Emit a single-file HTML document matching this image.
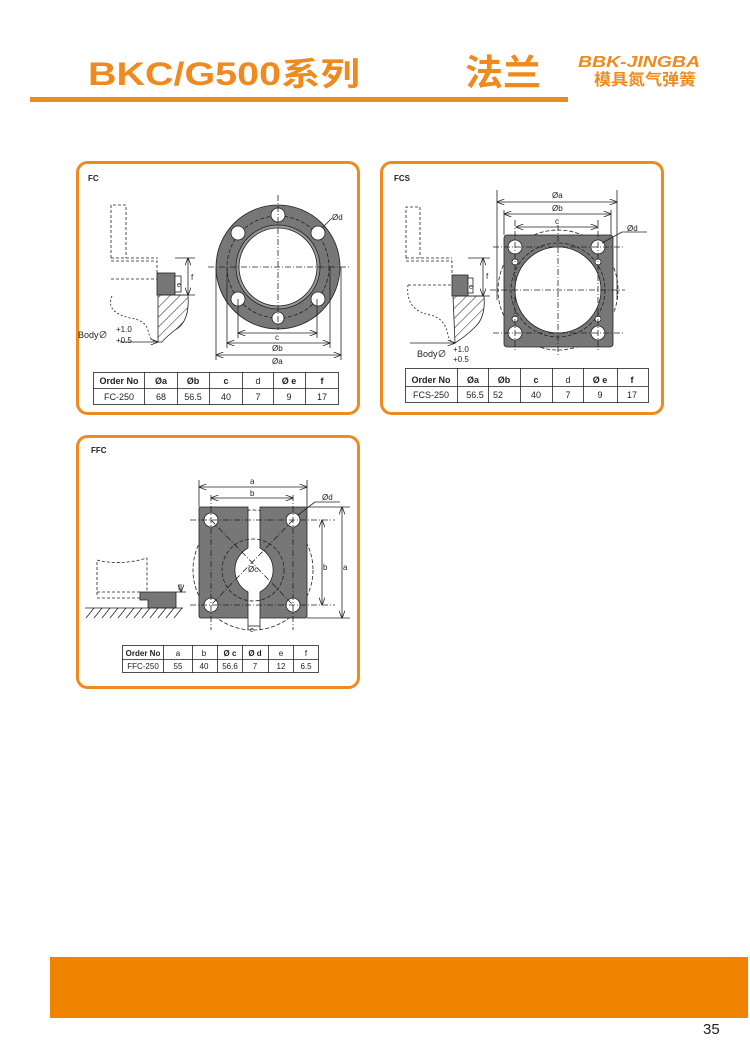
<!DOCTYPE html>
<html><head><meta charset="utf-8"><style>
html,body{margin:0;padding:0;background:#fff;}
svg{display:block;font-family:"Liberation Sans","Noto Sans CJK SC",sans-serif;}
</style></head><body>
<svg width="750" height="1061" viewBox="0 0 750 1061" xmlns="http://www.w3.org/2000/svg">
<defs>
<pattern id="hatch" width="7" height="7" patternUnits="userSpaceOnUse" patternTransform="rotate(45)">
<line x1="0" y1="0" x2="0" y2="7" stroke="#222" stroke-width="1"/></pattern>
<marker id="ar" markerWidth="8" markerHeight="6" refX="7.5" refY="3" orient="auto-start-reverse" markerUnits="userSpaceOnUse"><path d="M0,0 L8,3 L0,6" fill="none" stroke="#222" stroke-width="0.8"/></marker>
</defs>
<!-- header -->
<text x="88" y="85" font-size="32" font-weight="bold" fill="#ef8a1e" textLength="272" lengthAdjust="spacingAndGlyphs">BKC/G500系列</text>
<text x="465" y="85" font-size="36" font-weight="bold" fill="#ef8a1e" textLength="76" lengthAdjust="spacingAndGlyphs">法兰</text>
<text x="578" y="67" font-size="16" font-weight="bold" font-style="italic" fill="#ef8a1e" textLength="122" lengthAdjust="spacingAndGlyphs">BBK-JINGBA</text>
<text x="594" y="85" font-size="16" font-weight="bold" fill="#ef8a1e" textLength="102" lengthAdjust="spacingAndGlyphs">模具氮气弹簧</text>
<rect x="30" y="97" width="538" height="5" fill="#ef8a1e"/>

<!-- panels -->
<g fill="#fff" stroke="#ef8a1e" stroke-width="3">
<rect x="77.5" y="162.5" width="281" height="251" rx="10"/>
<rect x="381.5" y="162.5" width="281" height="251" rx="10"/>
<rect x="77.5" y="436.5" width="281" height="251" rx="10"/>
</g>

<!-- FC -->
<g stroke="#222" stroke-width="0.8" fill="none">
<text x="88" y="181" font-size="8" font-weight="bold" fill="#222" stroke="none">FC</text>
<path d="M111,258 V205 H126 V258" stroke-dasharray="3,2"/>
<path d="M111,258 H158 M111,261 H157 V273 M111,279 H157" stroke-dasharray="3,2"/>
<rect x="157" y="273" width="18" height="22" fill="#777"/>
<rect x="175" y="276" width="6" height="16" fill="#fff"/>
<path d="M158,295 H188 Q190,322 175,330 Q165,338 162,342 H158 Z" fill="url(#hatch)"/>
<path d="M112,296 Q105,312 130,318 Q145,320 148,330 Q150,342 158,342" stroke-dasharray="2,2"/>
<line x1="175" y1="258" x2="195" y2="258"/><line x1="175" y1="295" x2="195" y2="295"/>
<line x1="188" y1="258" x2="188" y2="295" marker-start="url(#ar)" marker-end="url(#ar)"/>
<line x1="120" y1="342" x2="158" y2="342" marker-end="url(#ar)"/>
<text x="191" y="280" font-size="8" fill="#222" stroke="none">f</text>
<text x="177" y="287" font-size="7" fill="#222" stroke="none">e</text>
<text x="78" y="338" font-size="9" fill="#222" stroke="none">Body∅</text>
<text x="116" y="332" font-size="8" fill="#222" stroke="none">+1.0</text>
<text x="116" y="343" font-size="8" fill="#222" stroke="none">+0.5</text>
<circle cx="278" cy="267" r="62" fill="#777"/>
<circle cx="278" cy="267" r="42" fill="#999"/>
<circle cx="278" cy="267" r="39" fill="#fff"/>
<circle cx="278" cy="267" r="51" stroke-dasharray="4,2"/>
<g fill="#fff">
<circle cx="278" cy="215" r="7"/><circle cx="238" cy="233" r="7"/><circle cx="318" cy="233" r="7"/>
<circle cx="238" cy="299" r="7"/><circle cx="318" cy="299" r="7"/><circle cx="278" cy="318" r="6"/>
</g>
<line x1="208" y1="267" x2="350" y2="267" stroke-dasharray="6,2,1,2"/>
<line x1="278" y1="195" x2="278" y2="330" stroke-dasharray="6,2,1,2"/>
<line x1="216" y1="267" x2="216" y2="360"/><line x1="341" y1="267" x2="341" y2="360"/>
<line x1="227" y1="267" x2="227" y2="348"/><line x1="330" y1="267" x2="330" y2="348"/>
<line x1="238" y1="299" x2="238" y2="338"/><line x1="317" y1="299" x2="317" y2="338"/>
<line x1="238" y1="333" x2="317" y2="333" marker-start="url(#ar)" marker-end="url(#ar)"/>
<line x1="227" y1="343" x2="330" y2="343" marker-start="url(#ar)" marker-end="url(#ar)"/>
<line x1="216" y1="355" x2="341" y2="355" marker-start="url(#ar)" marker-end="url(#ar)"/>
<line x1="322" y1="228" x2="332" y2="218"/>
<text x="275" y="340" font-size="8" fill="#222" stroke="none">c</text>
<text x="272" y="351" font-size="8" fill="#222" stroke="none">Øb</text>
<text x="272" y="364" font-size="8" fill="#222" stroke="none">Øa</text>
<text x="332" y="220" font-size="8" fill="#222" stroke="none">Ød</text>
</g>
<g font-size="9" fill="#222" text-anchor="middle">
<rect x="93.5" y="372.5" width="245" height="32" fill="none" stroke="#222" stroke-width="0.8"/>
<path d="M93,388.5 H338 M144.5,372 V405 M177.5,372 V405 M209.5,372 V405 M242.5,372 V405 M273.5,372 V405 M305.5,372 V405" stroke="#222" stroke-width="0.8"/>
<g font-weight="bold"><text x="119" y="384">Order No</text><text x="161" y="384">Øa</text><text x="193" y="384">Øb</text><text x="226" y="384">c</text><text x="289" y="384">Ø e</text><text x="322" y="384">f</text></g>
<text x="258" y="384">d</text>
<text x="119" y="400">FC-250</text><text x="161" y="400">68</text><text x="193" y="400">56.5</text><text x="226" y="400">40</text><text x="258" y="400">7</text><text x="289" y="400">9</text><text x="322" y="400">17</text>
</g>

<!-- FCS -->
<g stroke="#222" stroke-width="0.8" fill="none">
<text x="394" y="181" font-size="8" font-weight="bold" fill="#222" stroke="none">FCS</text>
<path d="M406,258 V207 H420 V258" stroke-dasharray="3,2"/>
<path d="M406,258 H452 M406,261 H452 V275 M408,285 H452" stroke-dasharray="3,2"/>
<rect x="452" y="275" width="16" height="21" fill="#777"/>
<rect x="468" y="278" width="5" height="15" fill="#fff"/>
<path d="M453,296 H484 Q486,318 474,328 Q466,336 455,343 Z" fill="url(#hatch)"/>
<path d="M408,285 Q405,310 430,315 Q445,318 448,335 Q450,343 455,343" stroke-dasharray="2,2"/>
<line x1="468" y1="258" x2="490" y2="258"/><line x1="468" y1="296" x2="490" y2="296"/>
<line x1="483" y1="258" x2="483" y2="296" marker-start="url(#ar)" marker-end="url(#ar)"/>
<line x1="410" y1="343" x2="455" y2="343" marker-end="url(#ar)"/>
<text x="486" y="279" font-size="8" fill="#222" stroke="none">f</text>
<text x="469" y="289" font-size="7" fill="#222" stroke="none">e</text>
<text x="417" y="357" font-size="9" fill="#222" stroke="none">Body∅</text>
<text x="453" y="352" font-size="8" fill="#222" stroke="none">+1.0</text>
<text x="453" y="362" font-size="8" fill="#222" stroke="none">+0.5</text>
<circle cx="558" cy="290" r="60" stroke-dasharray="4,2"/>
<rect x="504" y="235" width="109" height="112" rx="3" fill="#777"/>
<circle cx="558" cy="290" r="47" stroke-dasharray="4,2"/>
<circle cx="558" cy="290" r="43" fill="#fff"/>
<g fill="#fff">
<circle cx="515" cy="247" r="7"/><circle cx="598" cy="247" r="7"/><circle cx="515" cy="333" r="7"/><circle cx="598" cy="333" r="7"/>
<circle cx="515" cy="262" r="3"/><circle cx="598" cy="262" r="3"/><circle cx="515" cy="319" r="3"/><circle cx="598" cy="319" r="3"/>
</g>
<g stroke-dasharray="6,2,1,2">
<line x1="490" y1="290" x2="625" y2="290"/><line x1="558" y1="225" x2="558" y2="355"/>
<line x1="493" y1="247" x2="625" y2="247"/><line x1="493" y1="333" x2="625" y2="333"/>
<line x1="515" y1="220" x2="515" y2="352"/><line x1="598" y1="220" x2="598" y2="352"/>
</g>
<line x1="497" y1="190" x2="497" y2="300"/><line x1="617" y1="190" x2="617" y2="300"/>
<line x1="504" y1="210" x2="504" y2="235"/><line x1="611" y1="210" x2="611" y2="235"/>
<line x1="497" y1="202" x2="617" y2="202" marker-start="url(#ar)" marker-end="url(#ar)"/>
<line x1="504" y1="214" x2="611" y2="214" marker-start="url(#ar)" marker-end="url(#ar)"/>
<line x1="516" y1="227" x2="598" y2="227" marker-start="url(#ar)" marker-end="url(#ar)"/>
<line x1="602" y1="243" x2="622" y2="232"/><line x1="622" y1="232" x2="647" y2="232"/>
<text x="552" y="198" font-size="8" fill="#222" stroke="none">Øa</text>
<text x="552" y="211" font-size="8" fill="#222" stroke="none">Øb</text>
<text x="555" y="224" font-size="8" fill="#222" stroke="none">c</text>
<text x="627" y="231" font-size="8" fill="#222" stroke="none">Ød</text>
</g>
<g font-size="9" fill="#222" text-anchor="middle">
<rect x="405.5" y="368.5" width="243" height="34" fill="none" stroke="#222" stroke-width="0.8"/>
<path d="M405,386.5 H648 M457.5,368 V403 M488.5,368 V403 M520.5,368 V403 M552.5,368 V403 M583.5,368 V403 M617.5,368 V403" stroke="#222" stroke-width="0.8"/>
<g font-weight="bold"><text x="431" y="383">Order No</text><text x="473" y="383">Øa</text><text x="504" y="383">Øb</text><text x="536" y="383">c</text><text x="600" y="383">Ø e</text><text x="632" y="383">f</text></g>
<text x="568" y="383">d</text>
<text x="431" y="398">FCS-250</text><text x="475" y="398">56.5</text><text x="498" y="398">52</text><text x="536" y="398">40</text><text x="568" y="398">7</text><text x="600" y="398">9</text><text x="632" y="398">17</text>
</g>

<!-- FFC -->
<g stroke="#222" stroke-width="0.8" fill="none">
<text x="91" y="453" font-size="8" font-weight="bold" fill="#222" stroke="none">FFC</text>
<path d="M97,595 V560 Q120,566 147,558 V595" stroke-dasharray="3,2"/>
<path d="M97,592 H140 M97,598 H140" stroke-dasharray="3,2"/>
<path d="M140,592 H176 V608 H148 V600 H140 Z" fill="#777"/>
<line x1="85" y1="608" x2="183" y2="608"/>
<path d="M86,618 l8,-10 M94,618 l8,-10 M102,618 l8,-10 M110,618 l8,-10 M118,618 l8,-10 M126,618 l8,-10 M134,618 l8,-10 M142,618 l8,-10 M150,618 l8,-10 M158,618 l8,-10 M166,618 l8,-10 M174,618 l8,-10"/>
<line x1="176" y1="592" x2="186" y2="592"/>
<line x1="181" y1="584" x2="181" y2="592" marker-end="url(#ar)"/>
<text x="178" y="590" font-size="7" fill="#222" stroke="none">f</text>
<circle cx="253" cy="570" r="60" stroke-dasharray="4,2"/>
<path d="M201,507 H248 V548 A25,25 0 0 0 248,592 V618 H201 Q199,618 199,616 V509 Q199,507 201,507 Z" fill="#777"/>
<path d="M260,507 H305 Q307,507 307,509 V616 Q307,618 305,618 H260 V592 A25,25 0 0 0 260,548 Z" fill="#777"/>
<circle cx="253" cy="570" r="31" stroke-dasharray="4,2"/>
<g fill="#fff"><circle cx="211" cy="520" r="7"/><circle cx="293" cy="520" r="7"/><circle cx="211" cy="605" r="7"/><circle cx="293" cy="605" r="7"/></g>
<g stroke-dasharray="6,2,1,2">
<line x1="190" y1="520" x2="335" y2="520"/><line x1="190" y1="605" x2="335" y2="605"/>
<line x1="211" y1="495" x2="211" y2="630"/><line x1="293" y1="495" x2="293" y2="630"/>
<line x1="211" y1="520" x2="293" y2="605"/><line x1="293" y1="520" x2="211" y2="605"/>
</g>
<line x1="199" y1="480" x2="199" y2="507"/><line x1="307" y1="480" x2="307" y2="507"/>
<line x1="199" y1="487" x2="307" y2="487" marker-start="url(#ar)" marker-end="url(#ar)"/>
<line x1="211" y1="498" x2="293" y2="498" marker-start="url(#ar)" marker-end="url(#ar)"/>
<line x1="307" y1="507" x2="350" y2="507"/><line x1="307" y1="618" x2="350" y2="618"/>
<line x1="322" y1="520" x2="322" y2="605" marker-start="url(#ar)" marker-end="url(#ar)"/>
<line x1="342" y1="507" x2="342" y2="618" marker-start="url(#ar)" marker-end="url(#ar)"/>
<line x1="248" y1="618" x2="248" y2="630"/><line x1="260" y1="618" x2="260" y2="630"/>
<line x1="248" y1="626" x2="260" y2="626"/>
<line x1="298" y1="515" x2="315" y2="502"/><line x1="315" y1="502" x2="340" y2="502"/>
<text x="250" y="484" font-size="8" fill="#222" stroke="none">a</text>
<text x="250" y="496" font-size="8" fill="#222" stroke="none">b</text>
<text x="322" y="500" font-size="8" fill="#222" stroke="none">Ød</text>
<text x="248" y="572" font-size="8" fill="#222" stroke="none">Øc</text>
<text x="323" y="570" font-size="8" fill="#222" stroke="none">b</text>
<text x="343" y="570" font-size="8" fill="#222" stroke="none">a</text>
<text x="250" y="632" font-size="7" fill="#222" stroke="none">e</text>
</g>
<g font-size="8" fill="#222" text-anchor="middle">
<rect x="122.5" y="645.5" width="196" height="27" fill="none" stroke="#222" stroke-width="0.8"/>
<path d="M122,659.5 H318 M163.5,645 V673 M192.5,645 V673 M217.5,645 V673 M242.5,645 V673 M268.5,645 V673 M293.5,645 V673" stroke="#222" stroke-width="0.8"/>
<g font-weight="bold"><text x="143" y="656">Order No</text><text x="230" y="656">Ø c</text><text x="255" y="656">Ø d</text></g>
<text x="178" y="656">a</text><text x="204" y="656">b</text><text x="281" y="656">e</text><text x="306" y="656">f</text>
<text x="143" y="669">FFC-250</text><text x="178" y="669">55</text><text x="204" y="669">40</text><text x="230" y="669">56.6</text><text x="255" y="669">7</text><text x="281" y="669">12</text><text x="306" y="669">6.5</text>
</g>

<!-- footer -->
<rect x="50" y="957" width="698" height="61" fill="#f08300"/>
<text x="703" y="1034" font-size="15" fill="#222">35</text>
</svg>
</body></html>
